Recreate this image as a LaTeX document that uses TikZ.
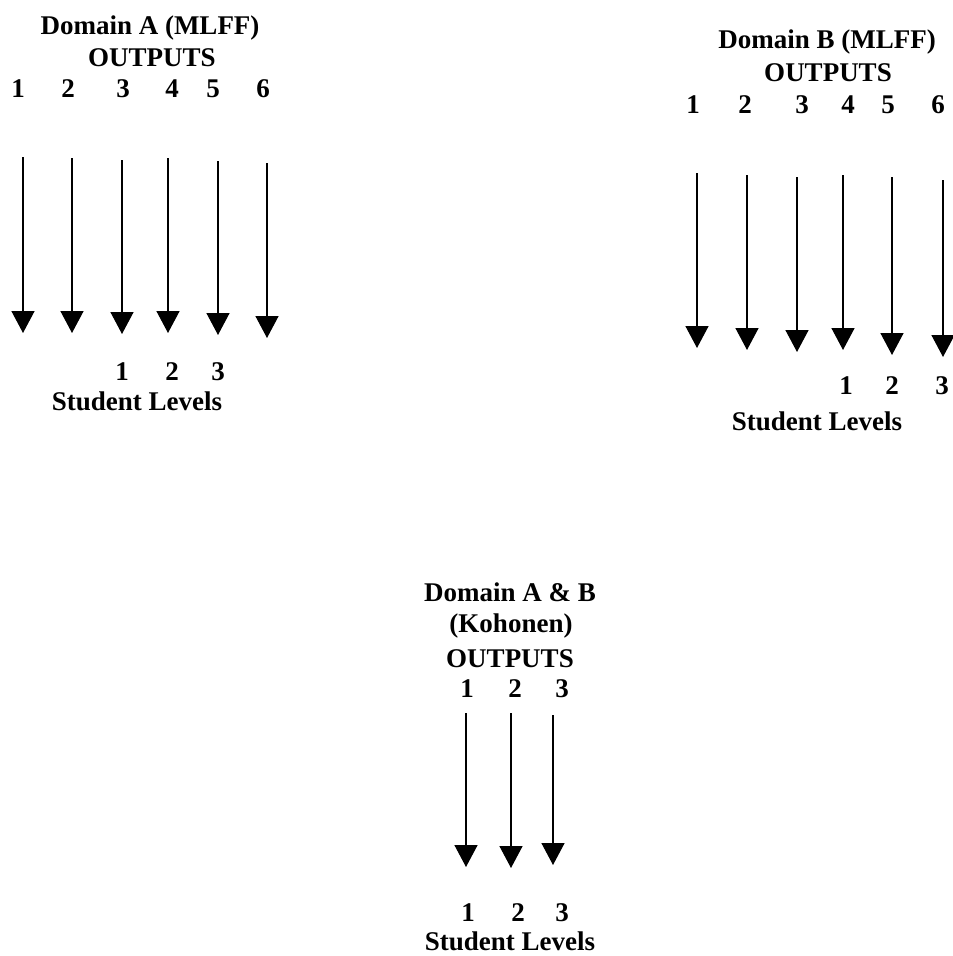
\documentclass[tikz,border=0pt]{standalone}
\usepackage{fontspec}
\setmainfont{Liberation Serif}
\usetikzlibrary{arrows.meta}
\tikzset{
  lbl/.style={inner sep=0pt, font=\fontsize{27}{30}\selectfont\bfseries},
  outarrow/.style={line width=1.5pt, -{Triangle[width=23pt,length=22pt]}}
}
\begin{document}
\begin{tikzpicture}[x=1pt,y=-1pt]
\useasboundingbox[fill=white] (0,0) rectangle (953,956);
% ---------- Domain A ----------
\node[lbl] (ta) at (150,28) {Domain A (MLFF)};
\node[lbl] (oa) at (152,58) {OUTPUTS};
\foreach \i/\x in {1/18,2/68,3/123,4/172,5/213,6/263}{
  \node[lbl] (na\i) at (\x,89) {\i};
}
\foreach \i/\x/\t/\b in {1/23/157/333,2/72/158/333,3/122/160/334,4/168/158/333,5/218/161/335,6/267/163/338}{
  \coordinate (as\i) at (\x,\t);
  \coordinate (ae\i) at (\x,\b);
  \draw[outarrow] (as\i) -- (ae\i);
}
\foreach \i/\x in {1/122,2/172,3/218}{
  \node[lbl] (sa\i) at (\x,372) {\i};
}
\node[lbl] (la) at (137,401) {Student Levels};
% ---------- Domain B ----------
\node[lbl] (tb) at (827,42) {Domain B (MLFF)};
\node[lbl] (ob) at (828,73) {OUTPUTS};
\foreach \i/\x in {1/693,2/745,3/802,4/848,5/888,6/938}{
  \node[lbl] (nb\i) at (\x,105) {\i};
}
\foreach \i/\x/\t/\b in {1/697/173/348,2/747/175/350,3/797/177/352,4/843/175/350,5/892/177/355,6/943/180/357}{
  \coordinate (bs\i) at (\x,\t);
  \coordinate (be\i) at (\x,\b);
  \draw[outarrow] (bs\i) -- (be\i);
}
\foreach \i/\x in {1/846,2/892,3/942}{
  \node[lbl] (sb\i) at (\x,386) {\i};
}
\node[lbl] (lb) at (817,421) {Student Levels};
% ---------- Domain A & B ----------
\node[lbl] (tc) at (510,592) {Domain A \& B};
\node[lbl] (kc) at (511,626) {(Kohonen)};
\node[lbl] (oc) at (510,659) {OUTPUTS};
\foreach \i/\x in {1/467,2/515,3/562}{
  \node[lbl] (nc\i) at (\x,689) {\i};
}
\foreach \i/\x/\t/\b in {1/466/713/867,2/511/713/868,3/553/715/865}{
  \coordinate (cs\i) at (\x,\t);
  \coordinate (ce\i) at (\x,\b);
  \draw[outarrow] (cs\i) -- (ce\i);
}
\foreach \i/\x in {1/468,2/518,3/562}{
  \node[lbl] (sc\i) at (\x,913) {\i};
}
\node[lbl] (lc) at (510,941) {Student Levels};
\end{tikzpicture}
\end{document}
